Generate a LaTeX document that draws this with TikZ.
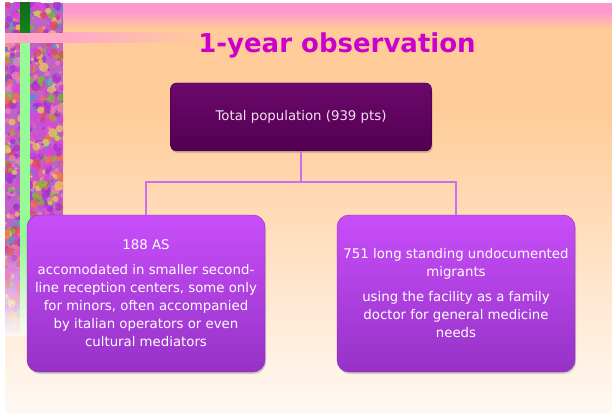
\documentclass[tikz,border=0pt]{standalone}
\usepackage{fontspec}
\setmainfont{DejaVu Sans}
\usetikzlibrary{shadows,fadings}
\definecolor{bgpink}{RGB}{255,153,204}
\definecolor{barpink}{RGB}{255,168,200}
\definecolor{bgpeach}{RGB}{255,204,153}
\definecolor{bgpale}{RGB}{255,249,244}
\definecolor{titlemag}{RGB}{204,0,204}
\definecolor{darktop}{RGB}{108,8,108}
\definecolor{darkbot}{RGB}{82,0,80}
\definecolor{headtext}{RGB}{242,226,242}
\definecolor{violettop}{RGB}{200,78,250}
\definecolor{violetbot}{RGB}{150,50,198}
\definecolor{violetedge}{RGB}{135,40,175}
\definecolor{linkviolet}{RGB}{204,110,240}
\definecolor{stemdark}{RGB}{20,105,30}
\definecolor{stemlight}{RGB}{150,250,150}
\definecolor{pbase}{RGB}{190,100,200}
\definecolor{pmag}{RGB}{215,70,215}
\definecolor{pviolet}{RGB}{160,50,210}
\definecolor{porange}{RGB}{240,115,70}
\definecolor{pgreen}{RGB}{120,190,50}
\definecolor{pblue}{RGB}{80,150,210}
\definecolor{pyellow}{RGB}{235,205,85}
\definecolor{ppink}{RGB}{240,130,180}
\definecolor{pred}{RGB}{225,70,80}
\pgfmathdeclarerandomlist{paint}{{pmag}{pviolet}{porange}{pgreen}{pblue}{pyellow}{ppink}{pred}{pmag}{pviolet}{pmag}}

\begin{document}
\begin{tikzpicture}[x=1pt, y=-1pt,
    box/.style={
        draw,
        align=center,
        inner sep=0pt,
        font=\fontsize{13.3}{18}\selectfont,
        drop shadow={opacity=0.35, shadow xshift=1pt, shadow yshift=-2pt}
    },
    headbox/.style={box, rounded corners=6pt, draw=darkbot!70!black, top color=darktop, bottom color=darkbot, text=headtext, minimum width=261pt, minimum height=68pt},
    groupbox/.style={box, rounded corners=12pt, draw=violetedge, top color=violettop, bottom color=violetbot, text=white, minimum width=238pt, minimum height=157pt},
    link/.style={draw=linkviolet, line width=2pt}
]
\useasboundingbox (0,0) rectangle (612,414);
\fill[white] (0,0) rectangle (612,414);

% slide background
\fill[bgpink] (5,3) rectangle (612,12);
\shade[top color=bgpink, bottom color=bgpeach] (5,12) rectangle (612,29);
\fill[bgpeach] (5,29) rectangle (612,110);
\shade[top color=bgpeach, bottom color=bgpale] (5,110) rectangle (612,414);

% painted strip on the left
\pgfmathsetseed{11}
\begin{scope}
    \clip (5,3) rectangle (63,335);
    \fill[pbase] (5,3) rectangle (63,335);
    \foreach \i in {1,...,1000}{
        \pgfmathrandomitem{\paintcol}{paint}
        \pgfmathsetmacro{\px}{5+58*rnd}
        \pgfmathsetmacro{\py}{3+332*rnd}
        \fill[\paintcol, opacity=0.75] (\px,\py) circle[radius=1.2+3.8*rnd];
    }
\end{scope}
\shade[top color=stemdark, bottom color=stemdark!80!green] (20,3) rectangle (30,33);
\fill[stemlight] (20,43) rectangle (30,335);
\fill[bgpale, path fading=north] (5,240) rectangle (63,336);

% pink bar
\fill[barpink] (5,33) rectangle (63,43);
\shade[left color=barpink, right color=bgpeach] (63,33) rectangle (205,43);

\node[font=\fontsize{26}{30}\selectfont\bfseries, text=titlemag, anchor=base] (title) at (337,53) {1-year observation};

\node[headbox] (total) at (301,117) {Total population (939 pts)};
\node[groupbox] (asylum) at (146,293.5) {188 AS\\[7pt]
    accomodated in smaller second-\\
    line reception centers, some only\\
    for minors, often accompanied\\
    by italian operators or even\\
    cultural mediators};
\node[groupbox] (migrants) at (456,293.5) {751 long standing undocumented\\
    migrants\\[7pt]
    using the facility as a family\\
    doctor for general medicine\\
    needs};

\coordinate (fork) at (301,182);
\draw[link] (total.south) -- (fork);
\draw[link] (fork) -| (asylum.north);
\draw[link] (fork) -| (migrants.north);

\end{tikzpicture}
\end{document}
